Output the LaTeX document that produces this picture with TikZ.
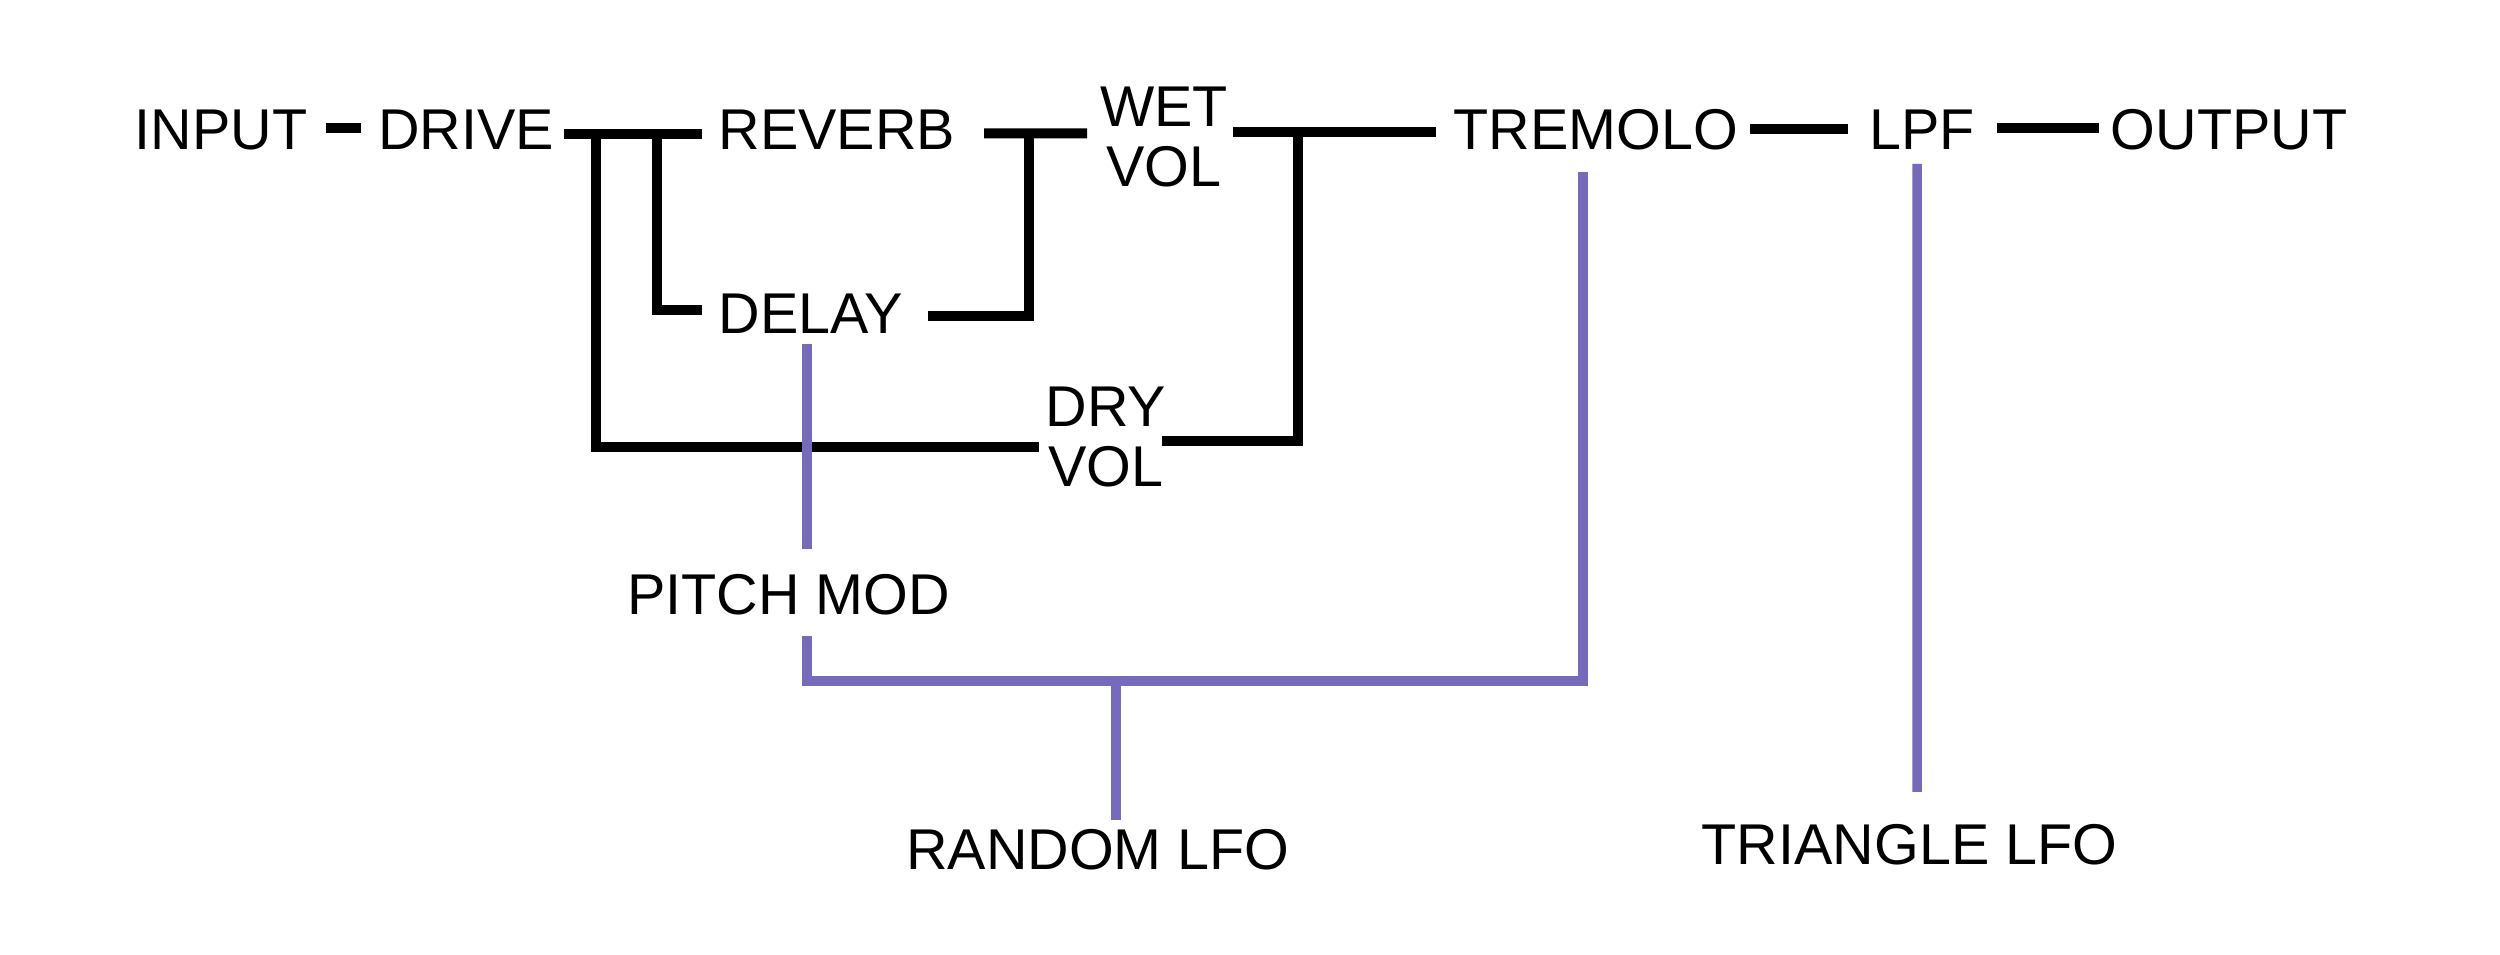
\documentclass[tikz,border=0pt]{standalone}
\usepackage{fontspec}
\setmainfont{Liberation Sans}
\definecolor{modpurple}{RGB}{118,106,188}
\begin{document}
\begin{tikzpicture}[x=0.3pt,y=-0.3pt,
  lbl/.style={inner sep=0pt,outer sep=0pt,font=\fontsize{17.25}{18}\selectfont},
  wire/.style={draw=black,line width=3pt,line cap=butt,line join=miter},
  mod/.style={draw=modpurple,line width=2.85pt,line cap=butt,line join=miter}]
\useasboundingbox (0,0) rectangle (2500,955);
% labels
\node[lbl,anchor=base] (input) at (221,150) {INPUT};
\node[lbl,anchor=base] (drive) at (466,150) {DRIVE};
\node[lbl,anchor=base] (reverb) at (837,150) {REVERB};
\node[lbl,anchor=base] (delay) at (811,334) {DELAY};
\node[lbl,align=center] (wet) at (1164,136.7) {WET\\VOL};
\node[lbl,align=center] (dry) at (1106,437.5) {DRY\\VOL};
\node[lbl,anchor=base] (tremolo) at (1596,150) {TREMOLO};
\node[lbl,anchor=base] (lpf) at (1922,150) {LPF};
\node[lbl,anchor=base] (output) at (2229,150) {OUTPUT};
\node[lbl,anchor=base] (pitch) at (788.5,615) {PITCH MOD};
\node[lbl,anchor=base] (random) at (1098,870) {RANDOM LFO};
\node[lbl,anchor=base] (triangle) at (1909.5,865) {TRIANGLE LFO};
% audio path
\draw[wire] ([shift={(19,-21.7)}]input.base east) -- ([shift={(-17,-21.7)}]drive.base west);
\draw[wire] ([shift={(10,-16.2)}]drive.base east) -- ([shift={(-17,-16.2)}]reverb.base west);
\draw[wire] ([shift={(42.5,-16.2)}]drive.base east) |- ([shift={(-7,9.5)}]dry.west);
\draw[wire] ([shift={(103,-16.2)}]drive.base east) |- ([shift={(-17,-24)}]delay.base west);
\draw[wire] ([shift={(29,-16.5)}]reverb.base east) -- ([shift={(-13,-3.2)}]wet.west);
\draw[wire] ([shift={(25,-18)}]delay.base east) -| ([shift={(-71,-3.2)}]wet.west);
\draw[wire] ([shift={(5,-4.7)}]wet.east) -- ([shift={(-17.6,-18)}]tremolo.base west);
\draw[wire] ([shift={(70.5,-4.7)}]wet.east) |- ([shift={(-4,3.5)}]dry.east);
\draw[wire] ([shift={(12,-21.3)}]tremolo.base east) -- ([shift={(-21.5,-21.3)}]lpf.base west);
\draw[wire] ([shift={(22,-21.7)}]lpf.base east) -- ([shift={(-11.5,-21.7)}]output.base west);
% modulation
\coordinate (rjoin) at (1116,681);
\draw[mod] ([shift={(-4,10)}]delay.base) -- ([shift={(18.5,-26)}]pitch.north);
\draw[mod] ([shift={(18.5,21)}]pitch.base) |- (rjoin) -| ([shift={(-13,22)}]tremolo.base);
\draw[mod] (rjoin) -- ([shift={(18,-10)}]random.north);
\draw[mod] ([shift={(-5,14)}]lpf.base) -- ([shift={(7.5,-33)}]triangle.north);
\end{tikzpicture}
\end{document}
